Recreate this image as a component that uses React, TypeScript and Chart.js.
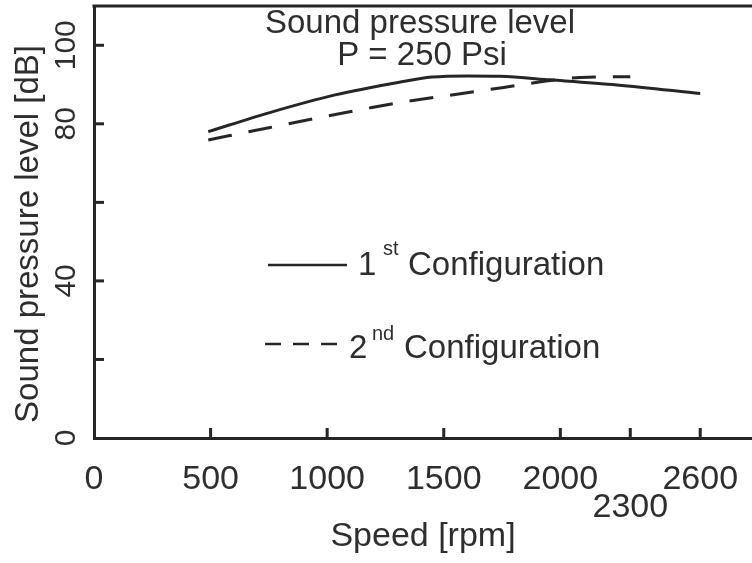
import React, { useEffect, useRef } from 'react';
import { Chart, registerables } from 'chart.js';

Chart.register(...registerables);

// ---- data ----
const speed1 = [490, 750, 1030, 1310, 1450, 1600, 1740, 1957, 2243, 2600];
const level1 = [78.0, 82.8, 87.3, 90.6, 91.9, 92.2, 92.1, 91.2, 89.9, 87.7];

const speed2 = [490, 750, 1030, 1310, 1600, 1750, 1940, 2085, 2300];
const level2 = [75.9, 79.0, 82.3, 85.4, 87.9, 89.2, 90.9, 91.8, 92.0];

const xTickValues = [0, 500, 1000, 1500, 2000, 2300, 2600];
const xTickLabels: (string | string[])[] = ['0', '500', '1000', '1500', '2000', ['', '2300'], '2600'];
const yTickValues = [0, 20, 40, 60, 80, 100];
const yTickLabels = ['0', '', '40', '', '80', '100'];

const seriesNames = ['Configuration', 'Configuration'];
const seriesOrdinals = ['1', '2'];
const seriesSup = ['st', 'nd'];
const titleLines = ['Sound pressure level', 'P = 250 Psi'];
const xTitle = 'Speed [rpm]';
const yTitle = 'Sound pressure level [dB]';

const FONT = '"Liberation Sans", Arial, sans-serif';
const INK = '#262626';
const TXT = '#2e2e2e';

const decorPlugin = {
  id: 'decor',
  afterDraw(chart: any) {
    const { ctx, chartArea, scales } = chart;
    const xs = scales.x;
    const ys = scales.y;
    ctx.save();
    ctx.strokeStyle = INK;
    ctx.lineWidth = 3;
    ctx.setLineDash([]);
    // top frame line
    ctx.beginPath();
    ctx.moveTo(chartArea.left - 1.5, chartArea.top);
    ctx.lineTo(chart.width, chartArea.top);
    ctx.stroke();
    // inner tick marks
    xTickValues.forEach((v) => {
      if (v === 0) return;
      const px = xs.getPixelForValue(v);
      ctx.beginPath();
      ctx.moveTo(px, chartArea.bottom);
      ctx.lineTo(px, chartArea.bottom - 10);
      ctx.stroke();
    });
    yTickValues.forEach((v) => {
      if (v === 0) return;
      const py = ys.getPixelForValue(v);
      ctx.beginPath();
      ctx.moveTo(chartArea.left, py);
      ctx.lineTo(chartArea.left + 10, py);
      ctx.stroke();
    });

    // title inside plot
    ctx.fillStyle = TXT;
    ctx.textAlign = 'center';
    ctx.textBaseline = 'alphabetic';
    ctx.font = `33px ${FONT}`;
    ctx.fillText(titleLines[0], 420, 33);
    ctx.fillText(titleLines[1], 422, 65);

    // y axis title
    ctx.save();
    ctx.translate(38, 234);
    ctx.rotate(-Math.PI / 2);
    ctx.textAlign = 'center';
    ctx.textBaseline = 'alphabetic';
    ctx.font = `33px ${FONT}`;
    ctx.fillText(yTitle, 0, 0);
    ctx.restore();

    // legend
    ctx.lineWidth = 2.5;
    ctx.strokeStyle = INK;
    ctx.setLineDash([]);
    ctx.beginPath();
    ctx.moveTo(268, 265);
    ctx.lineTo(347, 265);
    ctx.stroke();
    ctx.setLineDash([16, 12]);
    ctx.beginPath();
    ctx.moveTo(265, 344);
    ctx.lineTo(341, 344);
    ctx.stroke();
    ctx.setLineDash([]);

    ctx.textAlign = 'left';
    ctx.font = `33px ${FONT}`;
    ctx.fillText(seriesOrdinals[0], 358, 275);
    ctx.fillText(seriesNames[0], 408, 275);
    ctx.fillText(seriesOrdinals[1], 349, 358);
    ctx.fillText(seriesNames[1], 404, 358);
    ctx.font = `20px ${FONT}`;
    ctx.fillText(seriesSup[0], 383, 255);
    ctx.fillText(seriesSup[1], 372, 340);

    ctx.restore();
  },
};

export default function App() {
  const canvasRef = useRef<HTMLCanvasElement | null>(null);

  useEffect(() => {
    if (!canvasRef.current) return;
    const chart = new Chart(canvasRef.current, {
      type: 'line',
      data: {
        datasets: [
          {
            label: '1st Configuration',
            data: speed1.map((s, i) => ({ x: s, y: level1[i] })),
            borderColor: INK,
            borderWidth: 3,
            pointRadius: 0,
            cubicInterpolationMode: 'monotone',
            fill: false,
          },
          {
            label: '2nd Configuration',
            data: speed2.map((s, i) => ({ x: s, y: level2[i] })),
            borderColor: INK,
            borderWidth: 3,
            borderDash: [24, 17],
            pointRadius: 0,
            cubicInterpolationMode: 'monotone',
            fill: false,
          },
        ],
      },
      options: {
        animation: false,
        responsive: false,
        maintainAspectRatio: false,
        devicePixelRatio: 1,
        layout: { padding: { top: 6, right: 0, bottom: 0, left: 0 } },
        plugins: {
          legend: { display: false },
          tooltip: { enabled: false },
          title: { display: false },
        },
        scales: {
          x: {
            type: 'linear',
            min: 0,
            max: 2822,
            afterBuildTicks: (s: any) => {
              s.ticks = xTickValues.map((v) => ({ value: v }));
            },
            afterFit: (s: any) => {
              s.height = 125;
              s.paddingLeft = 0;
              s.paddingRight = 0;
              s.paddingTop = 0;
              s.paddingBottom = 0;
            },
            grid: { display: false, drawTicks: false },
            border: { display: true, width: 3, color: INK },
            ticks: {
              autoSkip: false,
              maxRotation: 0,
              minRotation: 0,
              padding: 28,
              color: TXT,
              font: { family: FONT, size: 34, lineHeight: 0.82 },
              callback: (_v: any, i: number) => xTickLabels[i],
            },
            title: {
              display: true,
              text: xTitle,
              color: TXT,
              font: { family: FONT, size: 34 },
              padding: { top: 0, bottom: 6 },
            },
          },
          y: {
            type: 'linear',
            min: 0,
            max: 110,
            afterBuildTicks: (s: any) => {
              s.ticks = yTickValues.map((v) => ({ value: v }));
            },
            afterFit: (s: any) => {
              s.width = 94;
              s.paddingLeft = 0;
              s.paddingRight = 0;
              s.paddingTop = 0;
              s.paddingBottom = 0;
            },
            grid: { display: false, drawTicks: false },
            border: { display: true, width: 3, color: INK },
            ticks: {
              autoSkip: false,
              minRotation: 90,
              maxRotation: 90,
              crossAlign: 'center',
              padding: 2,
              color: TXT,
              font: { family: FONT, size: 30 },
              callback: (_v: any, i: number) => yTickLabels[i],
            },
          },
        },
      },
      plugins: [decorPlugin],
    } as any);
    return () => chart.destroy();
  }, []);

  return (
    <div style={{ position: 'absolute', left: 0, top: 0, width: 752, height: 563, background: '#fff' }}>
      <canvas ref={canvasRef} width={752} height={563} style={{ display: 'block' }} />
    </div>
  );
}
